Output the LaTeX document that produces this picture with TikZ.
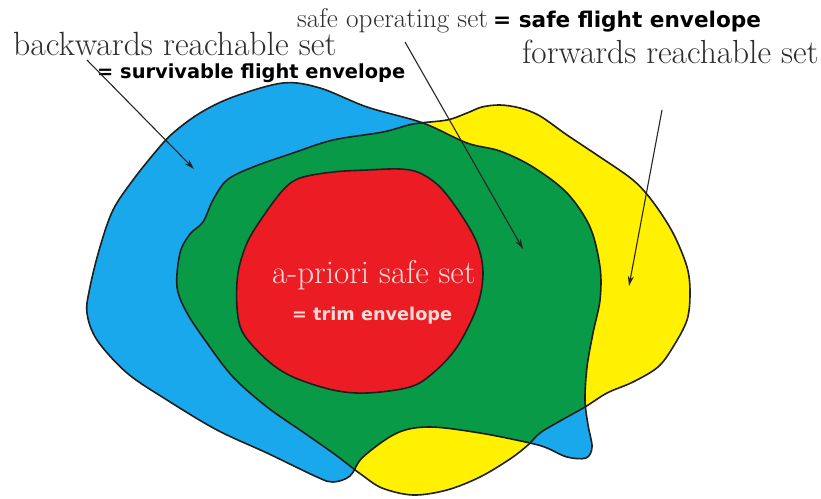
\documentclass[tikz,border=0pt]{standalone}
\usepackage{fontspec}
\newfontfamily\dvs{DejaVu Sans}
\usetikzlibrary{arrows.meta}
\definecolor{cblue}{RGB}{26,168,236}
\definecolor{cyellow}{RGB}{255,241,0}
\definecolor{cgreen}{RGB}{8,154,70}
\definecolor{cred}{RGB}{236,28,36}
\definecolor{ctext}{RGB}{45,45,45}
\definecolor{cpink}{RGB}{250,220,214}
\begin{document}
\begin{tikzpicture}[x=1pt,y=-1pt,
  outline/.style={draw=black!88, line width=1.6pt, line join=round},
  serif/.style={inner sep=0pt, anchor=base west, text=ctext},
  boldsans/.style={inner sep=0pt, anchor=base west, text=black, font=\dvs\bfseries},
  arr/.style={draw=black!85, line width=1.1pt, -{Stealth[length=10pt,width=6pt]}}]
\useasboundingbox (0,0) rectangle (821,498);
\fill[white] (0,0) rectangle (821,498);
\def\bluepath{plot[smooth cycle, tension=0.55] coordinates {
 (133,180) (157,150) (173,133) (200,113) (233,97) (283,83) (320,88) (367,107)
 (423,123) (467,143) (500,151) (533,167) (567,193) (590,227) (600,267) (600,300)
 (593,333) (587,367) (585,400) (588,425) (592,447) (586,458) (567,457) (547,448)
 (530,443) (480,433) (430,427) (397,433) (363,457) (350,476) (333,482) (317,477)
 (267,453) (217,430) (167,400) (127,373) (97,340) (87,313) (90,287) (100,247) (113,210)}}
\def\yellowpath{plot[smooth cycle, tension=0.55] coordinates {
 (383,132) (413,124) (447,120) (467,113) (482,107) (500,105) (520,108) (540,116)
 (567,135) (600,157) (633,180) (653,202) (673,233) (687,267) (690,293) (687,320)
 (673,347) (658,367) (633,382) (607,393) (585,407) (560,421) (540,433) (528,445)
 (510,459) (480,477) (447,490) (413,495) (382,488) (362,475) (350,466) (333,453)
 (300,430) (267,407) (233,377) (207,343) (187,313) (177,287) (180,253) (190,234)
 (203,222) (213,200) (227,180) (253,167) (293,153) (333,140)}}
\def\redpath{plot[smooth cycle, tension=0.55] coordinates {
 (283,190) (300,178) (333,172) (367,170) (400,169) (420,173) (440,187) (460,213)
 (477,243) (483,273) (477,307) (457,347) (433,373) (410,387) (367,393) (333,390)
 (293,377) (267,360) (243,333) (237,307) (238,273) (247,243) (262,218)}}
\fill[cblue] \bluepath;
\fill[cyellow] \yellowpath;
\begin{scope}
  \clip \bluepath;
  \fill[cgreen] \yellowpath;
\end{scope}
\draw[outline] \bluepath;
\draw[outline] \yellowpath;
\fill[cred] \redpath;
\draw[outline] \redpath;
% labels
\node[serif, font=\fontsize{33.6}{36}\selectfont] (back) at (13,55) {backwards reachable set};
\node[boldsans, font=\dvs\bfseries\fontsize{19.4}{22}\selectfont] (surv) at (97,78) {= survivable flight envelope};
\node[serif, font=\fontsize{27.2}{30}\selectfont] (safeop) at (297,27) {safe operating set};
\node[boldsans, font=\dvs\bfseries\fontsize{21.6}{24}\selectfont] (safefl) at (493,27) {= safe flight envelope};
\node[serif, font=\fontsize{33.4}{36}\selectfont] (fwd) at (522,63) {forwards reachable set};
\node[serif, text=cpink, font=\fontsize{33}{36}\selectfont] (apriori) at (272,283) {a-priori safe set};
\node[boldsans, text=cpink, font=\dvs\bfseries\fontsize{17.7}{20}\selectfont] (trim) at (292,320) {= trim envelope};
% arrows
\coordinate (a1s) at (87,60);
\coordinate (a1e) at (194,169);
\coordinate (a2s) at (405,42);
\coordinate (a2e) at (523,249);
\coordinate (a3s) at (662,110);
\coordinate (a3e) at (629,286);
\draw[arr] (a1s) -- (a1e);
\draw[arr] (a2s) -- (a2e);
\draw[arr] (a3s) -- (a3e);
\end{tikzpicture}
\end{document}
